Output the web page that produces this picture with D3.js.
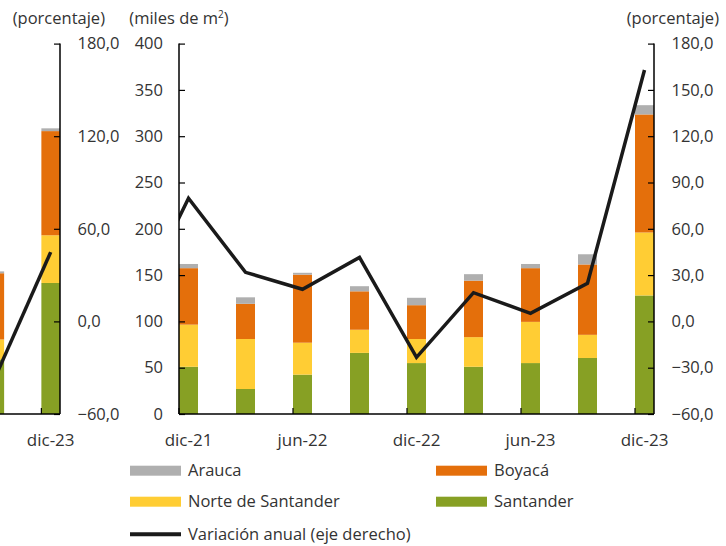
<!DOCTYPE html>
<html>
<head>
<meta charset="utf-8">
<script src="https://cdn.jsdelivr.net/npm/d3@7"></script>
<style>
  body { margin: 0; background: #fff; }
  text { font-family: 'Open Sans', sans-serif; fill: #333; }
</style>
</head>
<body>
<div id="chart"></div>
<script>
// main panel data (quarterly, miles de m2)
var categories = ['dic-21', 'mar-22', 'jun-22', 'sep-22', 'dic-22', 'mar-23', 'jun-23', 'sep-23', 'dic-23']
var labeled = ['dic-21', 'jun-22', 'dic-22', 'jun-23', 'dic-23']
var santander = [51, 27, 42.5, 66, 55, 51, 55, 60.5, 128]
var norte = [45.5, 54, 34.5, 25, 26, 32, 44.5, 25, 68]
var boyaca = [61, 38, 73.5, 41.5, 36.5, 61, 58, 76, 127.5]
var arauca = [4.5, 7, 2, 5.5, 8, 7, 4.5, 11, 10]
// annual change (right axis), starts one quarter before the first bar
var lineCategories = ['sep-21'].concat(categories)
var variacion = [4.3, 79.8, 31.8, 20.8, 41.5, -23.3, 18.6, 5.2, 24.7, 162.9]

// previous panel, only its right edge is visible
var prevCategories = ['sep-23', 'dic-23']
var prevLabeled = ['dic-23']
var prevSantander = [59, 141.5]
var prevNorte = [21.5, 51.5]
var prevBoyaca = [71.5, 112.5]
var prevArauca = [2, 3]
var prevVariacion = [-36.8, 44.9]

var leftTicks = [0, 50, 100, 150, 200, 250, 300, 350, 400]
var mainRightTicks = [-60, -30, 0, 30, 60, 90, 120, 150, 180]
var prevRightTicks = [-60, 0, 60, 120, 180]

var seriesNames = ['Santander', 'Norte de Santander', 'Boyacá', 'Arauca']
var colors = {
  'Santander': '#87a024',
  'Norte de Santander': '#ffcd34',
  'Boyacá': '#e46f0b',
  'Arauca': '#afafaf'
}

var width = 726
var height = 546
var yTop = 43.6
var yBottom = 414

var comma = d3.formatLocale({decimal: ',', thousands: '.', grouping: [3], currency: ['', '']}).format('.1f')

var svg = d3.select('#chart').append('svg')
.attr('width', width)
.attr('height', height)

svg.append('rect')
.attr('width', width)
.attr('height', height)
.attr('fill', '#fff')

var yLeft = d3.scaleLinear().domain([0, 400]).range([yBottom, yTop])
var yRight = d3.scaleLinear().domain([-60, 180]).range([yBottom, yTop])

function drawPanel (p) {
  var x = d3.scaleBand()
  .domain(p.categories)
  .range(p.xRange)
  .paddingInner(2 / 3)
  .paddingOuter(0)
  .align(0)

  var clipId = 'clip-' + p.id
  svg.append('clipPath').attr('id', clipId)
  .append('rect')
  .attr('x', p.clip[0])
  .attr('y', 0)
  .attr('width', p.clip[1] - p.clip[0])
  .attr('height', yBottom)

  var g = svg.append('g').attr('clip-path', 'url(#' + clipId + ')')

  var rows = p.categories.map(function (c, i) {
    return {cat: c, 'Santander': p.santander[i], 'Norte de Santander': p.norte[i], 'Boyacá': p.boyaca[i], 'Arauca': p.arauca[i]}
  })
  var stacked = d3.stack().keys(seriesNames)(rows)

  g.selectAll('.serie')
  .data(stacked)
  .enter().append('g')
  .attr('fill', function (d) { return colors[d.key] })
  .selectAll('rect')
  .data(function (d) { return d })
  .enter().append('rect')
  .attr('x', function (d) { return x(d.data.cat) })
  .attr('width', x.bandwidth())
  .attr('y', function (d) { return yLeft(d[1]) })
  .attr('height', function (d) { return yLeft(d[0]) - yLeft(d[1]) })

  // line points sit at bar centres, extra leading points go one step left
  var offset = p.lineCategories.length - p.categories.length
  var lineX = function (i) { return x(p.categories[0]) + (i - offset) * x.step() + x.bandwidth() / 2 }

  g.append('path')
  .datum(p.variacion)
  .attr('fill', 'none')
  .attr('stroke', '#1a1a1a')
  .attr('stroke-width', 3.5)
  .attr('d', d3.line()
    .x(function (d, i) { return lineX(i) })
    .y(function (d) { return yRight(d) }))

  // x axis
  svg.append('line')
  .attr('x1', p.axisX[0]).attr('x2', p.axisX[1])
  .attr('y1', yBottom).attr('y2', yBottom)
  .attr('stroke', '#000').attr('stroke-width', 1.5)

  p.labeled.forEach(function (c) {
    svg.append('line')
    .attr('x1', x(c)).attr('x2', x(c))
    .attr('y1', yBottom).attr('y2', yBottom - 6)
    .attr('stroke', '#000').attr('stroke-width', 1.2)
    svg.append('text')
    .attr('x', x(c) + x.bandwidth() / 2)
    .attr('y', yBottom + 32)
    .attr('text-anchor', 'middle')
    .style('font-size', '17px')
    .text(c)
  })

  // right axis
  var right = svg.append('g')
  .attr('transform', 'translate(' + p.axisX[1] + ',0)')
  .call(d3.axisRight(yRight).tickValues(p.rightTicks).tickSize(-6).tickPadding(17.5).tickFormat(comma))
  right.select('.domain').attr('stroke-width', 1.5).attr('d', 'M0,' + yTop + 'V' + yBottom)
  right.selectAll('.tick line').attr('stroke-width', 1.2)
  right.selectAll('text').style('font-size', '16.5px').style('font-family', "'Open Sans', sans-serif").attr('fill', '#333')

  svg.append('text')
  .attr('x', p.axisX[1] + p.titleOffset)
  .attr('y', 24)
  .attr('text-anchor', 'end')
  .style('font-size', '16.5px')
  .text('(porcentaje)')

  return x
}

drawPanel({
  id: 'prev',
  categories: prevCategories,
  labeled: prevLabeled,
  santander: prevSantander,
  norte: prevNorte,
  boyaca: prevBoyaca,
  arauca: prevArauca,
  lineCategories: prevCategories,
  variacion: prevVariacion,
  xRange: [-14.5, 60],
  clip: [0, 60],
  axisX: [0, 60],
  rightTicks: prevRightTicks,
  titleOffset: 45
})

drawPanel({
  id: 'main',
  categories: categories,
  labeled: labeled,
  santander: santander,
  norte: norte,
  boyaca: boyaca,
  arauca: arauca,
  lineCategories: lineCategories,
  variacion: variacion,
  xRange: [179, 654],
  clip: [179, 700],
  axisX: [179, 654],
  rightTicks: mainRightTicks,
  titleOffset: 65
})

// left axis of the main panel
var left = svg.append('g')
.attr('transform', 'translate(179,0)')
.call(d3.axisLeft(yLeft).tickValues(leftTicks).tickSize(-6).tickPadding(16))
left.select('.domain').attr('stroke-width', 1.5).attr('d', 'M0,' + yTop + 'V' + yBottom)
left.selectAll('.tick line').attr('stroke-width', 1.2)
left.selectAll('text').style('font-size', '16.5px').style('font-family', "'Open Sans', sans-serif").attr('fill', '#333')

var unit = svg.append('text')
.attr('x', 179)
.attr('y', 24)
.attr('text-anchor', 'middle')
.style('font-size', '16.5px')
unit.append('tspan').text('(miles de m')
unit.append('tspan').attr('dy', -6).style('font-size', '10px').text('2')
unit.append('tspan').attr('dy', 6).text(')')

// legend
var legendItems = [
  {name: 'Arauca', col: 0, row: 0},
  {name: 'Boyacá', col: 1, row: 0},
  {name: 'Norte de Santander', col: 0, row: 1},
  {name: 'Santander', col: 1, row: 1}
]
var legendCols = [130, 436]
var legendRows = [470.7, 501.7, 534.3]

legendItems.forEach(function (d) {
  var lx = legendCols[d.col]
  var ly = legendRows[d.row]
  svg.append('rect')
  .attr('x', lx).attr('y', ly - 5)
  .attr('width', 51).attr('height', 10)
  .attr('fill', colors[d.name])
  svg.append('text')
  .attr('x', lx + 58).attr('y', ly)
  .attr('dy', '0.35em')
  .style('font-size', '16.5px')
  .text(d.name)
})

svg.append('line')
.attr('x1', legendCols[0]).attr('x2', legendCols[0] + 51)
.attr('y1', legendRows[2]).attr('y2', legendRows[2])
.attr('stroke', '#1a1a1a').attr('stroke-width', 4)
svg.append('text')
.attr('x', legendCols[0] + 58).attr('y', legendRows[2])
.attr('dy', '0.35em')
.style('font-size', '16.5px')
.text('Variación anual (eje derecho)')
</script>
</body>
</html>
